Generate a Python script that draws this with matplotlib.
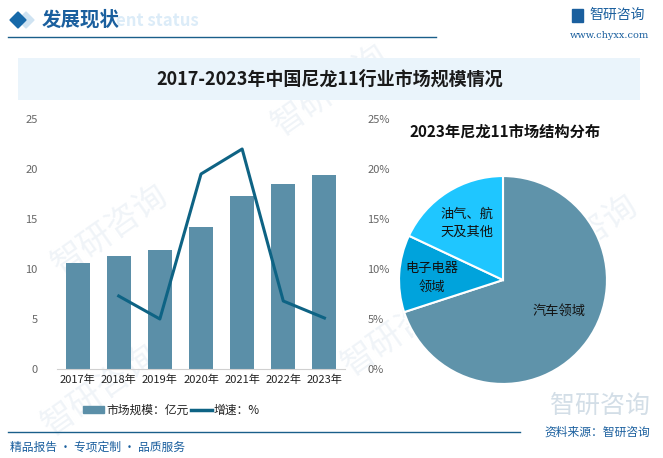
import matplotlib.pyplot as plt
import matplotlib.patches as mpatches

plt.rcParams['font.family'] = ['Noto Sans CJK SC', 'DejaVu Sans']

years = ['2017年', '2018年', '2019年', '2020年', '2021年', '2022年', '2023年']
market_size = [10.6, 11.3, 11.9, 14.2, 17.3, 18.5, 19.4]   # 亿元
growth = [None, 7.3, 5.0, 19.5, 22.0, 6.8, 5.1]             # %

pie_labels = ['汽车领域', '电子电器\n领域', '油气、航\n天及其他']
pie_values = [70, 12, 18]
pie_colors = ['#5f93aa', '#00a3dc', '#1fc6ff']

W, H = 663., 458.
fig = plt.figure(figsize=(W / 100, H / 100), dpi=100, facecolor='w')

def px(x0, y0, x1, y1):
    # pixel box (top-left origin) -> figure fraction rect
    return [x0 / W, 1 - y1 / H, (x1 - x0) / W, (y1 - y0) / H]

# background layer for header / footer decorations
bg = fig.add_axes([0, 0, 1, 1])
bg.set_xlim(0, W)
bg.set_ylim(H, 0)
bg.axis('off')

# faint watermarks
for (wx, wy) in [(110, 230), (330, 90), (400, 330), (580, 240), (100, 390)]:
    bg.text(wx, wy, '智研咨询', fontsize=24, color='#f0f4f8', rotation=35,
            ha='center', va='center', zorder=0)

# header
bg.add_patch(mpatches.Polygon([[26, 12], [34, 20], [26, 28], [18, 20]], color='#cfe3f2'))
bg.add_patch(mpatches.Polygon([[18, 12], [26, 20], [18, 28], [10, 20]], color='#1769a9'))
bg.text(116, 21, 'ent status', fontsize=12, fontweight='bold', color='#dcecf8', va='center')
bg.text(42, 20, '发展现状', fontsize=14, fontweight='bold', color='#1a5f9e', va='center')
bg.plot([8, 436], [37, 37], color='#1a5f8a', lw=1)
bg.add_patch(mpatches.Rectangle((572, 9), 11, 13, color='#1a5f9e'))
bg.text(589, 15, '智研咨询', fontsize=10, color='#1a5f9e', va='center')
bg.text(570, 36, 'www.chyxx.com', fontsize=7, color='#1a5f9e', va='center',
        family=['DejaVu Serif'])

# title band
bg.add_patch(mpatches.Rectangle((18, 58), 622, 42, color='#eaf4fb', lw=0))
bg.text(330, 79, '2017-2023年中国尼龙11行业市场规模情况', fontsize=13, fontweight='bold',
        color='#1a1a1a', ha='center', va='center')

# footer
bg.plot([8, 520], [432, 432], color='#1a5f8a', lw=1)
bg.text(10, 447, '精品报告 · 专项定制 · 品质服务', fontsize=8.5, color='#1a5f9e', va='center')
bg.text(650, 432, '资料来源：智研咨询', fontsize=8.5, color='#1a5f9e', va='center', ha='right')
bg.text(650, 406, '智研咨询', fontsize=18, color='#d3dee7', va='center', ha='right')

# legend (drawn by hand to sit where the original does)
bg.add_patch(mpatches.Rectangle((83, 406), 21, 7, color='#5b8fa8'))
bg.text(106, 410, '市场规模：亿元', fontsize=8.5, color='#222222', va='center')
bg.plot([191, 212], [410, 410], color='#0e6384', lw=2.5)
bg.text(214, 410, '增速：%', fontsize=8.5, color='#222222', va='center')

# bar + line chart
ax = fig.add_axes(px(57, 119, 345, 369))
x = list(range(len(years)))
ax.bar(x, market_size, width=0.58, color='#5b8fa8', zorder=2)
ax.set_xlim(-0.5, len(years) - 0.5)
ax.set_ylim(0, 25)
ax.set_yticks([0, 5, 10, 15, 20, 25])
ax.set_xticks(x)
ax.set_xticklabels(years, fontsize=8, color='#222222')
ax.tick_params(axis='y', labelsize=8, labelcolor='#666666', length=0, pad=14)
ax.tick_params(axis='x', length=0, pad=4)
for s in ['top', 'right', 'left']:
    ax.spines[s].set_visible(False)
ax.spines['bottom'].set_color('#d0d0d0')
ax.patch.set_alpha(0)

ax2 = ax.twinx()
gx = [i for i, g in zip(x, growth) if g is not None]
gy = [g for g in growth if g is not None]
ax2.plot(gx, gy, color='#0e6384', lw=2.2, zorder=3)
ax2.set_ylim(0, 25)
ax2.set_yticks([0, 5, 10, 15, 20, 25])
ax2.set_yticklabels([f'{v}%' for v in [0, 5, 10, 15, 20, 25]])
ax2.tick_params(axis='y', labelsize=8, labelcolor='#666666', length=0, pad=16)
for s in ax2.spines.values():
    s.set_visible(False)

# pie chart
pax = fig.add_axes(px(398, 175, 608, 385))
wedges, texts = pax.pie(pie_values, colors=pie_colors, startangle=90, counterclock=False,
                        wedgeprops=dict(edgecolor='white', linewidth=1.5))
pax.set_xlim(-1.01, 1.01)
pax.set_ylim(-1.01, 1.01)
pax.set_aspect('equal')
label_pos = [(0.54, -0.30), (-0.68, 0.02), (-0.35, 0.55)]
for lab, (lx, ly) in zip(pie_labels, label_pos):
    pax.text(lx, ly, lab, fontsize=9.5, color='#111111', ha='center', va='center',
             linespacing=1.5)
bg.text(505, 132, '2023年尼龙11市场结构分布', fontsize=11, fontweight='bold',
        color='#111111', ha='center', va='center')

fig.savefig('out.png', dpi=100, facecolor='w')
